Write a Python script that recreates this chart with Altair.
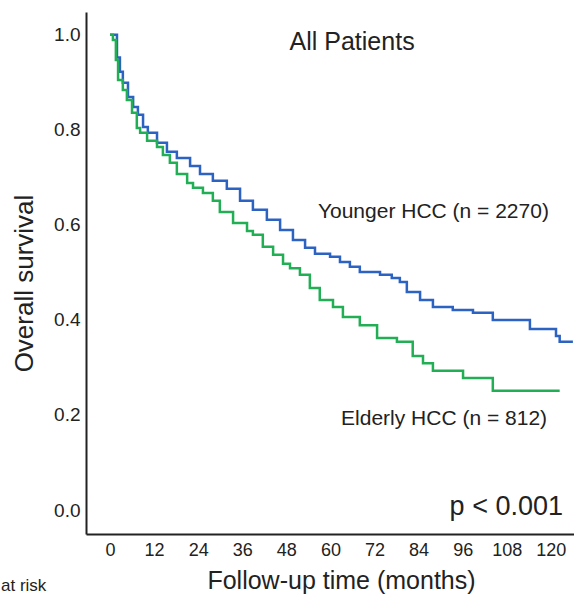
import altair as alt
import pandas as pd

# ---- data ----
group_names = ["Younger HCC", "Elderly HCC"]

young_months = [0, 1.9, 2.7, 3.5, 4.9, 6.3, 7.6, 9.0, 10.3, 12.8, 15.5, 18.2, 21.8, 24.5,
                28.0, 31.8, 35.4, 38.9, 42.7, 46.3, 49.8, 53.1, 55.8, 59.9, 62.6, 65.3,
                68.0, 73.5, 76.7, 78.9, 80.8, 84.4, 87.9, 93.3, 98.8, 104.2, 114.3,
                121.4, 122.4, 126.0]
young_surv = [1.000, 0.952, 0.922, 0.899, 0.869, 0.848, 0.832, 0.806, 0.794, 0.773, 0.754,
              0.741, 0.724, 0.707, 0.693, 0.676, 0.651, 0.632, 0.611, 0.589, 0.568, 0.552,
              0.539, 0.533, 0.522, 0.512, 0.501, 0.495, 0.488, 0.480, 0.459, 0.442, 0.427,
              0.421, 0.415, 0.400, 0.381, 0.366, 0.354, 0.354]

elderly_months = [0, 0.8, 1.6, 2.2, 3.5, 4.6, 6.0, 7.3, 8.2, 10.1, 12.8, 14.4, 16.3, 18.2,
                  21.0, 22.6, 25.3, 28.0, 29.9, 33.5, 37.3, 38.9, 41.6, 44.4, 47.1, 49.0,
                  51.7, 54.4, 57.1, 60.7, 63.4, 68.0, 72.7, 78.1, 82.4, 85.2, 87.9, 96.1,
                  104.2, 122.4]
elderly_surv = [1.000, 0.989, 0.947, 0.905, 0.884, 0.863, 0.836, 0.804, 0.794, 0.777, 0.764,
                0.747, 0.731, 0.707, 0.688, 0.678, 0.667, 0.651, 0.627, 0.604, 0.587, 0.579,
                0.554, 0.537, 0.518, 0.509, 0.495, 0.467, 0.442, 0.427, 0.406, 0.389, 0.362,
                0.354, 0.324, 0.309, 0.293, 0.278, 0.251, 0.251]

x_ticks = [0, 12, 24, 36, 48, 60, 72, 84, 96, 108, 120]
y_ticks = [0.0, 0.2, 0.4, 0.6, 0.8, 1.0]

df = pd.concat([
    pd.DataFrame({"month": young_months, "survival": young_surv, "group": group_names[0]}),
    pd.DataFrame({"month": elderly_months, "survival": elderly_surv, "group": group_names[1]}),
], ignore_index=True)

FONT = "Liberation Sans"
TXT = "#222222"
BLUE = "#2C62C2"
GREEN = "#22AE55"

xscale = alt.Scale(domain=[-6.53, 126.3], nice=False, zero=False)
yscale = alt.Scale(domain=[-0.0505, 1.048], nice=False, zero=False)

lines = alt.Chart(df).mark_line(interpolate="step-after", strokeWidth=2.5).encode(
    x=alt.X("month:Q", scale=xscale,
            axis=alt.Axis(values=x_ticks, title="Follow-up time (months)",
                          titleFontSize=25, titleFont=FONT, titleFontWeight="normal",
                          titleColor=TXT, titleX=255, titleY=54,
                          titleBaseline="alphabetic", titleAlign="center",
                          labelFontSize=18, labelPadding=7)),
    y=alt.Y("survival:Q", scale=yscale,
            axis=alt.Axis(values=y_ticks, format=".1f", title="Overall survival",
                          titleFontSize=26, titleFont=FONT, titleFontWeight="normal",
                          titleColor=TXT, titleX=-54, titleY=271, titleAngle=270,
                          titleBaseline="alphabetic", titleAlign="center",
                          labelFontSize=19, labelPadding=6)),
    color=alt.Color("group:N", scale=alt.Scale(domain=group_names, range=[BLUE, GREEN]),
                    legend=None),
)


def note(text, x, y, size, align):
    return alt.Chart(pd.DataFrame({"t": [text]})).mark_text(
        align=align, baseline="alphabetic", fontSize=size, font=FONT, color=TXT
    ).encode(x=alt.X(datum=x), y=alt.Y(datum=y), text="t:N")


title = note("All Patients", 65.9, 0.968, 25, "center")
young_lbl = note("Younger HCC (n = 2270)", 56.6, 0.615, 21, "left")
old_lbl = note("Elderly HCC (n = 812)", 62.9, 0.179, 21, "left")
pval = note("p < 0.001", 123.3, -0.0105, 27, "right")

at_risk = alt.Chart(pd.DataFrame({"t": ["at risk"]})).mark_text(
    align="left", baseline="alphabetic", fontSize=17, font=FONT, color=TXT
).encode(x=alt.value(-85), y=alt.value(579), text="t:N")

chart = alt.layer(lines, title, young_lbl, old_lbl, pval, at_risk).properties(
    width=488, height=522,
    autosize=alt.AutoSizeParams(type="none"),
    padding={"left": 86, "top": 12, "right": 0, "bottom": 62},
).configure_view(stroke=None).configure_axis(
    grid=False, ticks=False, domainColor=TXT, domainWidth=2,
    labelFont=FONT, labelColor=TXT,
)

chart.save("out.html", embed_options={"renderer": "svg", "actions": False})
